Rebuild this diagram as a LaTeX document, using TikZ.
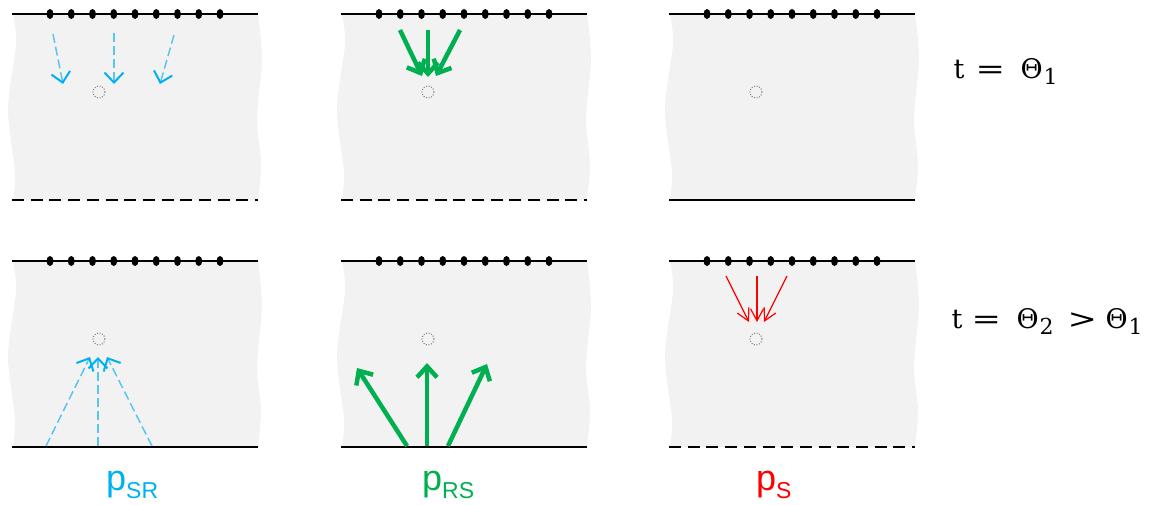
\documentclass[tikz,border=0pt]{standalone}
\usepackage{fontspec}
\newfontfamily\labfont{Liberation Sans}
\newfontfamily\eqfont{DejaVu Serif}
\usetikzlibrary{arrows.meta}
\definecolor{cy}{RGB}{0,176,240}
\definecolor{cyl}{RGB}{90,198,240}
\definecolor{gr}{RGB}{0,176,80}
\definecolor{bgc}{RGB}{242,242,242}
\newcommand\panelbg[4]{%
\begin{scope}[shift={(#1,#2)}]
 \fill[bgc] plot[smooth] coordinates {(13,0) (16,30) (8,95) (15,158) (13,186)} -- plot[smooth] coordinates {(258,186) (261,150) (257,105) (262,45) (258,0)} -- cycle;
 \draw[surf] (12,0) -- (258,0);
 \draw[surf,#3] (12,186) -- (258,186);
 \foreach \i in {0,...,8} \fill (50+21.25*\i,0) ellipse (3.5 and 5);
 \node[hole] (#4) at (99,78) {};
\end{scope}}
\newcommand\gl[2]{\makebox[0pt][l]{\hspace{#1pt}#2}}
\newcommand\sub[1]{\raisebox{-6pt}{\fontsize{22}{24}\selectfont #1}}
\newcommand\wide[1]{\scalebox{1.3}[1]{#1}}
\begin{document}
\begin{tikzpicture}[x=1pt,y=-1pt,
  surf/.style={line width=1.8pt,black},
  dsh/.style={dash pattern=on 12pt off 6.7pt},
  sld/.style={},
  hole/.style={circle,draw=gray,line width=1pt,dash pattern=on 1pt off 1.6pt,minimum size=12pt,inner sep=0pt},
  bluearr/.style={cyl,line width=1.5pt,dash pattern=on 9pt off 4pt,-{Straight Barb[length=10pt,width=19pt,line width=2pt,color=cy]}},
  greenarr/.style={gr,line width=4.5pt,-{Straight Barb[length=11pt,width=20pt]}},
  redarr/.style={red,line width=1.2pt,-{Straight Barb[length=12pt,width=13pt]}},
  lab/.style={anchor=base west,inner sep=0pt,font=\labfont\fontsize{36}{40}\selectfont},
  teq/.style={anchor=base west,inner sep=0pt,font=\eqfont\fontsize{27}{30}\selectfont}]
\useasboundingbox (0,0) rectangle (1151,504);
\panelbg{0}{14}{dsh}{h1}
\panelbg{329}{14}{dsh}{h2}
\panelbg{657}{14}{sld}{h3}
\panelbg{0}{261}{sld}{h4}
\panelbg{329}{261}{sld}{h5}
\panelbg{657}{261}{dsh}{h6}
% top-left blue
\draw[bluearr] (53,34) -- (63,84);
\draw[bluearr] (114,33) -- (114,84);
\draw[bluearr] (174,35) -- (160,84);
% top-middle green
\draw[greenarr] (400,30) -- (422,76);
\draw[greenarr] (428,30) -- (428,77);
\draw[greenarr] (460,30) -- (436,76);
% bottom-left blue
\draw[bluearr] (46,446) -- (90,357);
\draw[bluearr] (98,446) -- (98,357);
\draw[bluearr] (152,446) -- (107,357);
% bottom-middle green
\draw[greenarr] (407,446) -- (357,368);
\draw[greenarr] (427,446) -- (427,363);
\draw[greenarr] (448,446) -- (487,364);
% bottom-right red
\draw[redarr] (726,276) -- (749,322);
\draw[redarr] (757,276) -- (757,322);
\draw[redarr] (787,276) -- (764,322);
% labels
\node[lab,text=cy] (lsr) at (106,490) {p\raisebox{-8pt}{\fontsize{23}{26}\selectfont SR}};
\node[lab,text=gr] (lrs) at (422,490) {p\raisebox{-8pt}{\fontsize{23}{26}\selectfont RS}};
\node[lab,text=red] (ls) at (756,490) {p\raisebox{-8pt}{\fontsize{23}{26}\selectfont S}};
\node[teq] (t1) at (953,78) {\gl{0}{t}\gl{22}{\wide{=}}\gl{67}{Θ}\gl{90}{\sub{1}}};
\node[teq] (t2) at (951,328) {\gl{0}{t}\gl{20}{\wide{=}}\gl{65}{Θ}\gl{88}{\sub{2}}\gl{116}{\wide{>}}\gl{154}{Θ}\gl{177}{\sub{1}}};
\end{tikzpicture}
\end{document}
